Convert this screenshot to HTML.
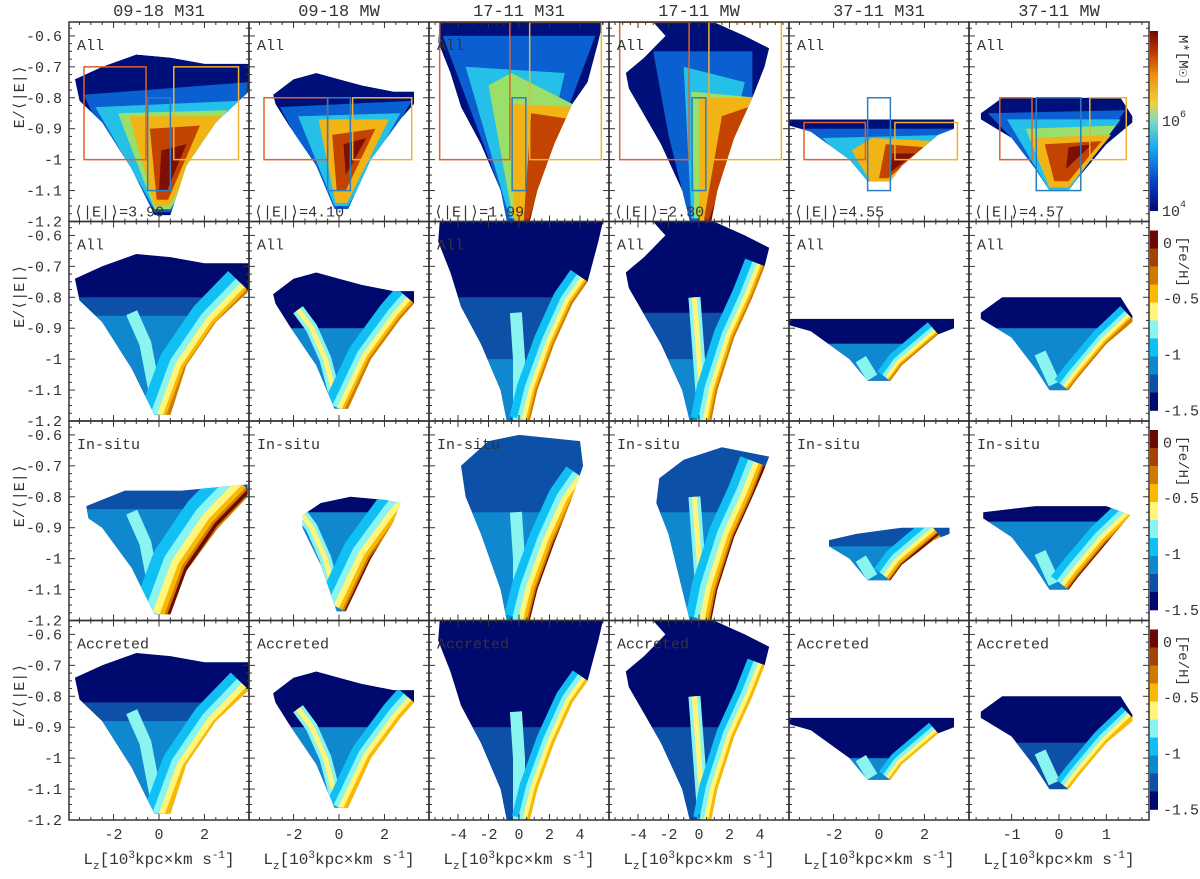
<!DOCTYPE html>
<html><head><meta charset="utf-8"><style>
html,body{margin:0;padding:0;background:#fff;}
svg{display:block;}
text{font-family:"Liberation Mono",monospace;}
</style></head><body>
<svg id="fig" width="1200" height="879" viewBox="0 0 1200 879" xmlns="http://www.w3.org/2000/svg" font-family="Liberation Mono, monospace"></svg>
<script>
// ---------- data ----------
const colTitles = ["09-18 M31","09-18 MW","17-11 M31","17-11 MW","37-11 M31","37-11 MW"];
const xRanges = [[-3.96,3.96],[-3.96,3.96],[-5.9,5.9],[-5.9,5.9],[-3.96,3.96],[-1.9,1.9]];
const xMajor = [[-2,0,2],[-2,0,2],[-4,-2,0,2,4],[-4,-2,0,2,4],[-2,0,2],[-1,0,1]];
const xMinorStep = [0.5,0.5,0.5,0.5,0.5,0.25];
const eRange = [-1.2,-0.555];
const eTicks = [-0.6,-0.7,-0.8,-0.9,-1,-1.1,-1.2];
const eTickLabels = ["-0.6","-0.7","-0.8","-0.9","-1","-1.1","-1.2"];
const meanE = ["3.90","4.10","1.99","2.30","4.55","4.57"];
const rowLabels = ["All","All","In-situ","Accreted"];
const feTicks = [0,-0.5,-1,-1.5];
const feTickLabels = ["0","-0.5","-1","-1.5"];
const feBandColors = ["#6b0a02","#a34203","#d07a04","#fbb800","#fff57a","#8af5f0","#10c0f5","#0f88d0","#0c50a8","#000a6e"];

const outlineAll = [
 [[-3.7,-0.74],[-2.5,-0.70],[-1,-0.66],[0.5,-0.67],[2,-0.69],[3.95,-0.69],[3.95,-0.78],[2.5,-0.88],[1.2,-1.02],[0.5,-1.18],[-0.2,-1.18],[-1.2,-1.03],[-2.5,-0.88],[-3.5,-0.81]],
 [[-2.9,-0.79],[-2,-0.74],[-1,-0.72],[0,-0.74],[1,-0.76],[2.4,-0.78],[3.3,-0.78],[3.3,-0.82],[2.7,-0.87],[1.4,-1.0],[0.4,-1.16],[-0.2,-1.16],[-1,-1.02],[-2.2,-0.89],[-2.8,-0.82]],
 [[-5.2,-0.556],[5.5,-0.556],[5.2,-0.62],[4.5,-0.75],[3.5,-0.82],[2.3,-0.95],[1.2,-1.1],[0.7,-1.2],[-0.8,-1.2],[-1.2,-1.1],[-2.5,-0.95],[-3.8,-0.83],[-4.5,-0.72],[-5.3,-0.62]],
 [[-3,-0.556],[1,-0.556],[3,-0.6],[4.6,-0.64],[4.3,-0.7],[3.5,-0.8],[2.3,-0.93],[1.2,-1.1],[0.8,-1.2],[-0.6,-1.2],[-1.1,-1.1],[-2.5,-0.95],[-4.6,-0.77],[-4.8,-0.72],[-3.6,-0.67],[-2.2,-0.6]],
 [[-3.96,-0.87],[3.3,-0.87],[3.3,-0.9],[2.6,-0.92],[1,-1.02],[0.5,-1.07],[-0.5,-1.07],[-1.3,-1.0],[-3,-0.91],[-3.96,-0.89]],
 [[-1.65,-0.85],[-1.2,-0.8],[1.3,-0.8],[1.55,-0.86],[1.55,-0.88],[1.0,-0.95],[0.4,-1.06],[0.2,-1.1],[-0.2,-1.1],[-0.5,-1.03],[-1.0,-0.93],[-1.65,-0.87]]
];
const outlineInsitu = [
 [[-3.2,-0.83],[-1.5,-0.78],[1,-0.78],[3.9,-0.76],[3.9,-0.8],[2.6,-0.9],[1.2,-1.04],[0.5,-1.18],[-0.2,-1.18],[-1.2,-1.03],[-2.5,-0.9],[-3.1,-0.87]],
 [[-1.6,-0.86],[-0.8,-0.82],[0.5,-0.8],[2,-0.81],[2.7,-0.82],[2.4,-0.88],[1.4,-1.0],[0.3,-1.17],[-0.1,-1.17],[-0.8,-1.02],[-1.6,-0.9]],
 [[-3.8,-0.7],[-2,-0.62],[0,-0.6],[4,-0.62],[4.2,-0.7],[3.5,-0.8],[2.3,-0.95],[1.2,-1.1],[0.7,-1.2],[-0.8,-1.2],[-1.2,-1.1],[-2.5,-0.92],[-3.5,-0.8]],
 [[-2.6,-0.74],[-1,-0.68],[1.5,-0.64],[4.6,-0.67],[4.2,-0.72],[3.5,-0.8],[2.3,-0.93],[1.2,-1.1],[0.8,-1.2],[-0.6,-1.2],[-1.1,-1.1],[-2,-0.92],[-2.8,-0.82]],
 [[-2.2,-0.94],[-1,-0.92],[1,-0.9],[3.1,-0.9],[3.1,-0.92],[2.4,-0.94],[1,-1.02],[0.5,-1.07],[-0.5,-1.07],[-1.3,-1.0],[-2.2,-0.96]],
 [[-1.6,-0.85],[-0.5,-0.83],[1,-0.83],[1.5,-0.86],[1.0,-0.95],[0.4,-1.06],[0.2,-1.1],[-0.2,-1.1],[-0.5,-1.03],[-1.0,-0.93],[-1.6,-0.87]]
];
const massLayers = [
 [["#0a60d0",[[-3.3,-0.79],[3.9,-0.75],[3.9,-0.79],[0.5,-1.17],[-0.2,-1.17],[-3,-0.84]]],["#24c0e8",[[-2.8,-0.83],[3.5,-0.81],[0.5,-1.16],[-0.2,-1.16]]],["#9adf6a",[[-1.8,-0.85],[3.0,-0.84],[0.5,-1.16],[-0.2,-1.16]]],["#f2b414",[[-1.3,-0.86],[2.8,-0.86],[0.45,-1.15],[-0.2,-1.15]]],["#c24400",[[-0.4,-0.9],[1.8,-0.89],[0.4,-1.13],[-0.1,-1.13]]],["#7d0f05",[[0.1,-0.97],[1.2,-0.95],[0.35,-1.1],[0,-1.1]]]],
 [["#0a60d0",[[-2.6,-0.83],[3.2,-0.81],[0.4,-1.16],[-0.2,-1.16]]],["#24c0e8",[[-1.8,-0.86],[2.7,-0.85],[0.4,-1.15],[-0.2,-1.15]]],["#f2b414",[[-0.9,-0.87],[2.2,-0.87],[0.35,-1.14],[-0.15,-1.14]]],["#c24400",[[-0.3,-0.92],[1.6,-0.9],[0.3,-1.1],[-0.1,-1.1]]],["#7d0f05",[[0.2,-0.95],[1.2,-0.93],[0.3,-1.05]]]],
 [["#0a60d0",[[-5,-0.6],[5,-0.6],[1.2,-1.1],[0.7,-1.2],[-0.8,-1.2],[-1.2,-1.1]]],["#24c0e8",[[-3.5,-0.7],[3,-0.72],[0.8,-1.19],[-0.6,-1.19]]],["#9adf6a",[[-2,-0.76],[-0.5,-0.72],[3.5,-0.82],[0.8,-1.19],[-0.4,-1.19]]],["#f2b414",[[-0.6,-0.82],[3.8,-0.83],[0.8,-1.2],[-0.3,-1.2]]],["#c24400",[[0.8,-0.85],[3.5,-0.87],[0.8,-1.2],[0.3,-1.2]]],["#7d0f05",[[2.3,-0.95],[3.2,-0.9],[0.8,-1.2],[0.6,-1.2]]]],
 [["#0a60d0",[[-3,-0.65],[3.5,-0.65],[3.5,-0.8],[0.8,-1.2],[-0.6,-1.2],[-2,-0.92]]],["#24c0e8",[[-1,-0.7],[3,-0.75],[0.8,-1.19],[-0.5,-1.19]]],["#9adf6a",[[-0.5,-0.78],[3.8,-0.8],[0.8,-1.19],[-0.3,-1.19]]],["#f2b414",[[0,-0.8],[4,-0.8],[0.8,-1.2],[0,-1.2]]],["#c24400",[[1.5,-0.86],[3.8,-0.82],[0.8,-1.2],[0.3,-1.2]]],["#7d0f05",[[2.5,-0.93],[3.6,-0.85],[0.8,-1.2],[0.6,-1.2]]]],
 [["#0a60d0",[[-3.6,-0.9],[3.3,-0.9],[0.5,-1.07],[-0.5,-1.07],[-1.3,-1.0]]],["#24c0e8",[[-2.5,-0.93],[3,-0.92],[0.5,-1.07],[-0.5,-1.07]]],["#f2b414",[[-1.2,-0.97],[-0.3,-0.93],[2.5,-0.94],[0.5,-1.07],[-0.4,-1.07]]],["#c24400",[[0.3,-0.95],[2.0,-0.96],[0.4,-1.06],[0,-1.06]]],["#7d0f05",[[0.6,-0.98],[1.6,-0.98],[0.5,-1.04]]]],
 [["#0a60d0",[[-1.5,-0.85],[1.4,-0.84],[0.2,-1.1],[-0.2,-1.1],[-1,-0.93]]],["#24c0e8",[[-1.1,-0.87],[1.3,-0.87],[0.2,-1.1],[-0.2,-1.1]]],["#9adf6a",[[-0.7,-0.9],[1.2,-0.89],[0.2,-1.09],[-0.2,-1.09]]],["#f2b414",[[-0.6,-0.93],[1.1,-0.92],[0.2,-1.09],[-0.2,-1.09]]],["#c24400",[[-0.3,-0.95],[0.9,-0.94],[0.2,-1.07],[-0.1,-1.07]]],["#7d0f05",[[0.2,-0.96],[0.7,-0.95],[0.15,-1.03]]]]
];
const ridges = [
 [[0.4,-1.19],[1.2,-1.03],[2.5,-0.89],[3.95,-0.78]],
 [[0.3,-1.17],[1.4,-1.0],[2.7,-0.87],[3.3,-0.82]],
 [[0.7,-1.2],[1.2,-1.1],[2.3,-0.95],[3.5,-0.82],[4.5,-0.75]],
 [[0.8,-1.2],[1.2,-1.1],[2.3,-0.93],[3.5,-0.8],[4.3,-0.7]],
 [[0.5,-1.07],[1,-1.02],[2.6,-0.92]],
 [[0.2,-1.1],[0.4,-1.06],[1.0,-0.95],[1.55,-0.87]]
];
const centerLines = [
 [[0,-1.18],[-0.6,-0.95],[-1.2,-0.85]],
 [[-0.1,-1.14],[-0.6,-1.0],[-1.2,-0.9],[-1.8,-0.84]],
 [[0,-1.2],[0,-1.0],[-0.2,-0.85]],
 [[0.3,-1.2],[0,-1.0],[-0.3,-0.8]],
 [[-0.3,-1.06],[-0.8,-1.0]],
 [[-0.1,-1.08],[-0.4,-0.98]]
];
const ridgeScale = [0.9,0.75,0.65,0.65,0.5,0.55];
const bandsAll = [[[-0.555,"#000a6e"],[-0.80,"#0c50a8"],[-0.86,"#0f88d0"]],[[-0.555,"#000a6e"],[-0.9,"#0f88d0"]],[[-0.555,"#000a6e"],[-0.8,"#0c50a8"],[-1.0,"#0f88d0"]],[[-0.555,"#000a6e"],[-0.85,"#0c50a8"],[-1.0,"#0f88d0"]],[[-0.555,"#000a6e"],[-0.95,"#0f88d0"]],[[-0.555,"#000a6e"],[-0.9,"#0f88d0"]]];
const bandsInsitu = [[[-0.555,"#0c50a8"],[-0.84,"#0f88d0"]],[[-0.555,"#000a6e"],[-0.85,"#0f88d0"]],[[-0.555,"#0c50a8"],[-0.85,"#0f88d0"]],[[-0.555,"#0c50a8"],[-0.85,"#0f88d0"]],[[-0.555,"#0c50a8"],[-0.96,"#0f88d0"]],[[-0.555,"#000a6e"],[-0.88,"#0f88d0"]]];
const bandsAcc = [[[-0.555,"#000a6e"],[-0.82,"#0c50a8"],[-0.88,"#0f88d0"]],[[-0.555,"#000a6e"],[-0.9,"#0f88d0"]],[[-0.555,"#000a6e"],[-0.9,"#0c50a8"]],[[-0.555,"#000a6e"],[-0.9,"#0c50a8"]],[[-0.555,"#000a6e"],[-1.0,"#0f88d0"]],[[-0.555,"#000a6e"],[-0.95,"#0c50a8"]]];
const boxRed = [[-3.3,-0.7,-0.57,-1.0],[-3.3,-0.8,-0.5,-1.0],[-5.2,-0.556,-0.6,-1.0],[-5.2,-0.556,-0.65,-1.0],[-3.3,-0.88,-0.6,-1.0],[-1.25,-0.8,-0.57,-1.0]];
const boxBlue = [[-0.5,-0.8,0.5,-1.1],[-0.5,-0.8,0.5,-1.1],[-0.45,-0.8,0.45,-1.1],[-0.45,-0.8,0.45,-1.1],[-0.5,-0.8,0.5,-1.1],[-0.48,-0.8,0.46,-1.1]];
const boxYellow = [[0.65,-0.7,3.5,-1.0],[0.6,-0.8,3.2,-1.0],[0.7,-0.556,5.4,-1.0],[0.65,-0.556,5.4,-1.0],[0.7,-0.88,3.45,-1.0],[0.65,-0.8,1.42,-1.0]];

// ---------- layout ----------
const NS="http://www.w3.org/2000/svg";
const svg=document.getElementById("fig");
const PL=69, PW=180, PT=22, PH=199.5;
const FONT="Liberation Mono, monospace";
function el(tag,attrs,parent){const e=document.createElementNS(NS,tag);for(const k in attrs)e.setAttribute(k,attrs[k]);if(tag==="text")e.setAttribute("font-family",FONT);(parent||svg).appendChild(e);return e;}
function xs(c,v){const r=xRanges[c];return PL+PW*c+(v-r[0])/(r[1]-r[0])*PW;}
function ys(r,v){return PT+PH*r+(eRange[1]-v)/(eRange[1]-eRange[0])*PH;}
function pts(c,r,arr){return arr.map(p=>xs(c,p[0]).toFixed(1)+","+ys(r,p[1]).toFixed(1)).join(" ");}

const defs=el("defs",{});
const grad=el("linearGradient",{id:"massg",x1:"0",y1:"1",x2:"0",y2:"0"},defs);
[["0","#000a70"],["0.15","#0a3cc0"],["0.35","#18a8f0"],["0.5","#7adcc0"],["0.6","#f0d040"],["0.75","#f09010"],["0.88","#c03800"],["1","#700a05"]].forEach(s=>el("stop",{offset:s[0],"stop-color":s[1]},grad));

for(let r=0;r<4;r++){
 for(let c=0;c<6;c++){
  const g=el("g",{});
  
  
  const outline = r===2?outlineInsitu[c]:outlineAll[c];
  const cid="clip"+r+"_"+c;
  const cp=el("clipPath",{id:cid},defs);
  el("polygon",{points:pts(c,r,outline)},cp);
  const pc=el("clipPath",{id:"pc"+r+"_"+c},defs);
  el("rect",{x:PL+PW*c,y:PT+PH*r,width:PW,height:PH},pc);
  const hg=el("g",{"clip-path":"url(#"+cid+")"},g);
  
  
  if(r===0){
   el("polygon",{points:pts(c,r,outline),fill:"#00107a"},hg);
   massLayers[c].forEach(L=>{
    const p=el("polygon",{points:pts(c,r,L[1]),fill:L[0]},hg);
    
    
   });
  } else {
   const bands = r===1?bandsAll[c]:(r===2?bandsInsitu[c]:bandsAcc[c]);
   bands.forEach(b=>{
    const y=ys(r,b[0]);
    const rc=el("rect",{x:PL+PW*c,y:y,width:PW,height:PT+PH*(r+1)-y,fill:b[1]},hg);
    
    
   });
   const s=ridgeScale[c];
   const wset = r===2?[[80,"#10c0f5"],[54,"#8af5f0"],[36,"#fff57a"],[20,"#fbb800"],[10,"#d07a04"],[4,"#6b0a02"]]
              : r===1?[[64,"#10c0f5"],[40,"#8af5f0"],[26,"#fff57a"],[13,"#fbb800"],[6,"#d07a04"]]
              : [[56,"#10c0f5"],[36,"#8af5f0"],[22,"#fff57a"],[9,"#fbb800"]];
   const cl=el("polyline",{points:pts(c,r,centerLines[c]),fill:"none",stroke:"#8af5f0","stroke-width":12,"stroke-linejoin":"round"},hg);
   
   
   if(c===1||c===3){
    const cy=el("polyline",{points:pts(c,r,centerLines[c]),fill:"none",stroke:"#fff57a","stroke-width":5,"stroke-linejoin":"round"},hg);
    
    
   }
   wset.forEach(w=>{
    const pl=el("polyline",{points:pts(c,r,ridges[c]),fill:"none",stroke:w[1],"stroke-width":w[0]*s,"stroke-linejoin":"round"},hg);
    
    
   });
  }
  if(r===0){
   [[boxRed,"#e0602a","box-retrograde"],[boxBlue,"#2a7fc0","box-radial"],[boxYellow,"#f0b030","box-prograde"]].forEach(B=>{
    const b=B[0][c];
    const rc=el("rect",{x:xs(c,b[0]),y:ys(r,b[1]),width:xs(c,b[2])-xs(c,b[0]),height:ys(r,b[3])-ys(r,b[1]),fill:"none",stroke:B[1],"stroke-width":1.5,"clip-path":"url(#pc"+r+"_"+c+")"},g);
    
    
   });
   const t=el("text",{x:PL+PW*c+5,y:PT+PH-5,"font-size":15,fill:"#333"},g);
   t.textContent="⟨|E|⟩="+meanE[c];
   
   
  }
  const lb=el("text",{x:PL+PW*c+8,y:PT+PH*r+28,"font-size":15,fill:"#333"},g);
  lb.textContent=rowLabels[r];
  
  
  const fr=el("rect",{x:PL+PW*c,y:PT+PH*r,width:PW,height:PH,fill:"none",stroke:"#333","stroke-width":1.5},g);
  
  
  const x0=PL+PW*c, x1=x0+PW;
  for(let k=0;k<=26;k++){
   const v=-1.2+k*0.025; if(v>eRange[1])break;
   const y=ys(r,v); const major=(k%4===0); const L=major?6:3;
   el("line",{x1:x0,y1:y,x2:x0+L,y2:y,stroke:"#333","stroke-width":1},g);
   el("line",{x1:x1,y1:y,x2:x1-L,y2:y,stroke:"#333","stroke-width":1},g);
  }
  const xr=xRanges[c], st=xMinorStep[c];
  for(let v=Math.ceil(xr[0]/st)*st; v<=xr[1]+1e-9; v+=st){
   const x=xs(c,v); const major=xMajor[c].some(m=>Math.abs(m-v)<1e-6); const L=major?6:3;
   const yt=PT+PH*r, yb=yt+PH;
   el("line",{x1:x,y1:yb,x2:x,y2:yb-L,stroke:"#333","stroke-width":1},g);
   el("line",{x1:x,y1:yt,x2:x,y2:yt+L,stroke:"#333","stroke-width":1},g);
  }
 }
 eTicks.forEach((v,i)=>{
  const t=el("text",{x:62,y:ys(r,v)+5,"font-size":15,fill:"#333","text-anchor":"end"});
  t.textContent=eTickLabels[i];
  
  
 });
 const yl=el("text",{x:0,y:0,"font-size":15,fill:"#333","text-anchor":"middle",transform:"translate(24,"+(PT+PH*r+PH/2-25)+") rotate(-90)"});
 yl.textContent="E/⟨|E|⟩";
 
 
 const cbx=1150, cbt=PT+PH*r+9, cbh=180;
 const cb=el("g",{});
 
 
 if(r===0){
  el("rect",{x:cbx,y:cbt,width:8,height:cbh,fill:"url(#massg)"},cb);
  const a=el("text",{x:1162,y:126,"font-size":15,fill:"#333"},cb); a.textContent="10";
  const a2=el("text",{x:1180,y:117,"font-size":10,fill:"#333"},cb); a2.textContent="6";
  const b=el("text",{x:1162,y:216,"font-size":15,fill:"#333"},cb); b.textContent="10";
  const b2=el("text",{x:1180,y:207,"font-size":10,fill:"#333"},cb); b2.textContent="4";
  const m=el("text",{x:0,y:0,"font-size":14,fill:"#333",transform:"translate(1179,35) rotate(90)"},cb); m.textContent="M*[M☉]";
 } else {
  const lo=-1.5, hi=0.11, n=feBandColors.length;
  const fy=v=>cbt+(hi-v)/(hi-lo)*cbh;
  feBandColors.forEach((col,i)=>{
   el("rect",{x:cbx,y:(cbt+i*cbh/n).toFixed(1),width:8,height:(cbh/n+0.3).toFixed(1),fill:col},cb);
  });
  feTicks.forEach((v,i)=>{
   const t=el("text",{x:1163,y:fy(v)+5,"font-size":15,fill:"#333"},cb); t.textContent=feTickLabels[i];
  });
  const m=el("text",{x:0,y:0,"font-size":14,fill:"#333",transform:"translate(1179,"+(cbt+6)+") rotate(90)"},cb); m.textContent="[Fe/H]";
 }
}
for(let c=0;c<6;c++){
 const t=el("text",{x:PL+PW*c+PW/2,y:16,"font-size":17,fill:"#333","text-anchor":"middle"});
 t.textContent=colTitles[c];
 
 
 xMajor[c].forEach(v=>{
  const lt=el("text",{x:xs(c,v),y:839,"font-size":15,fill:"#333","text-anchor":"middle"});
  lt.textContent=v;
  
  
 });
 const xl=el("text",{x:PL+PW*c+PW/2,y:864,"font-size":16,fill:"#333","text-anchor":"middle"});
 xl.innerHTML='L<tspan dy="5" font-size="11">z</tspan><tspan dy="-5">[10</tspan><tspan dy="-6" font-size="11">3</tspan><tspan dy="6">kpc×km s</tspan><tspan dy="-6" font-size="11">-1</tspan><tspan dy="6">]</tspan>';
 
 
}
</script>
</body></html>
